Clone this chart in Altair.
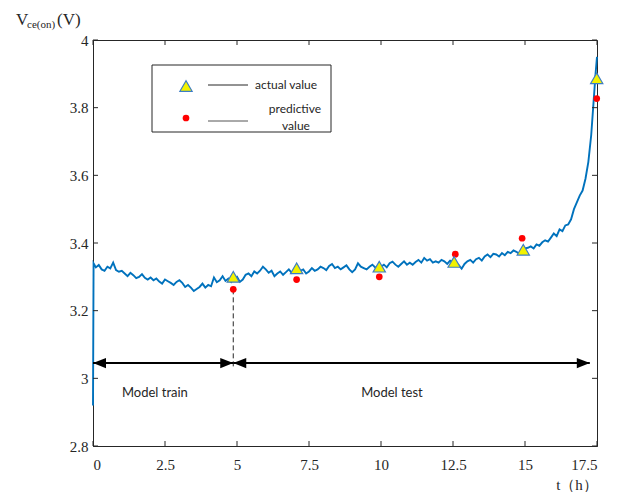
import altair as alt
import pandas as pd

start_t = [0.0, 0.02]
start_v = [2.92, 3.34]
h0 = [3.328, 3.335, 3.322, 3.318, 3.33, 3.325, 3.342, 3.32, 3.315]  # t = 0.1 .. 0.9
h1 = [3.318, 3.31, 3.302, 3.312, 3.305, 3.296, 3.30, 3.308, 3.297, 3.292]
h2 = [3.298, 3.29, 3.295, 3.286, 3.28, 3.292, 3.287, 3.282, 3.276, 3.285]
h3 = [3.29, 3.282, 3.27, 3.276, 3.268, 3.258, 3.264, 3.27, 3.28, 3.268]
h4 = [3.276, 3.272, 3.298, 3.284, 3.29, 3.302, 3.288, 3.295, 3.285, 3.296]
h5 = [3.30, 3.285, 3.292, 3.306, 3.31, 3.302, 3.316, 3.31, 3.318, 3.33]
h6 = [3.322, 3.312, 3.318, 3.302, 3.31, 3.316, 3.306, 3.314, 3.322, 3.312]
h7 = [3.32, 3.312, 3.318, 3.322, 3.31, 3.316, 3.326, 3.318, 3.322, 3.33]
h8 = [3.326, 3.32, 3.332, 3.338, 3.326, 3.33, 3.322, 3.328, 3.334, 3.322]
h9 = [3.314, 3.322, 3.34, 3.33, 3.326, 3.322, 3.33, 3.336, 3.328, 3.324]
h10 = [3.33, 3.336, 3.328, 3.34, 3.345, 3.336, 3.33, 3.338, 3.346, 3.336]
h11 = [3.342, 3.336, 3.344, 3.35, 3.342, 3.356, 3.348, 3.352, 3.342, 3.346]
h12 = [3.342, 3.35, 3.346, 3.338, 3.348, 3.344, 3.34, 3.334, 3.324, 3.338]
h13 = [3.346, 3.35, 3.342, 3.352, 3.356, 3.348, 3.36, 3.366, 3.358, 3.368]
h14 = [3.366, 3.36, 3.37, 3.364, 3.374, 3.37, 3.378, 3.374, 3.368, 3.38]
h15 = [3.384, 3.386, 3.39, 3.384, 3.396, 3.392, 3.402, 3.408, 3.404, 3.416]
h16 = [3.428, 3.42, 3.44, 3.435, 3.452, 3.455, 3.47, 3.50, 3.52, 3.54]
end_t = [17.0, 17.1, 17.2, 17.3, 17.4, 17.45, 17.5]
end_v = [3.555, 3.59, 3.64, 3.72, 3.84, 3.90, 3.95]

actual_t = [4.87, 7.07, 9.94, 12.54, 14.94, 17.49]
actual_v = [3.30, 3.325, 3.33, 3.344, 3.38, 3.887]
pred_t = [4.87, 7.07, 9.94, 12.58, 14.90, 17.49]
pred_v = [3.263, 3.292, 3.30, 3.367, 3.414, 3.827]

x_ticks = [0, 2.5, 5, 7.5, 10, 12.5, 15, 17.5]
y_ticks = [2.8, 3.0, 3.2, 3.4, 3.6, 3.8, 4.0]

split_t = 4.87
arrow_v = 3.045
arrow_end = 17.25
dash_top = 3.263
dash_bottom = 3.03

labels_txt = ["Model train", "Model test"]
labels_t = [2.15, 10.38]
labels_v = [2.958, 2.958]

# ---- build tables ----
rows = [{"t": a, "v": b} for a, b in zip(start_t, start_v)]
rows += [{"t": round(0.1 * (i + 1), 2), "v": v} for i, v in enumerate(h0)]
for hour, seg in enumerate([h1, h2, h3, h4, h5, h6, h7, h8, h9, h10, h11, h12, h13, h14, h15, h16], start=1):
    rows += [{"t": round(hour + 0.1 * i, 2), "v": v} for i, v in enumerate(seg)]
rows += [{"t": a, "v": b} for a, b in zip(end_t, end_v)]
series = pd.DataFrame(rows)

W, H = 504, 406
xs = alt.Scale(domain=[0, 17.5], nice=False, zero=False)
ys = alt.Scale(domain=[2.8, 4.0], nice=False, zero=False)
INK = "#262626"
BLUE = "#0072BD"
SANS = "Lato"
SERIF = "Liberation Serif"

line = alt.Chart(series).mark_line(color=BLUE, strokeWidth=1.9).encode(
    x=alt.X("t:Q", scale=xs, axis=alt.Axis(values=x_ticks, labelExpr="datum.value + ''", title=None,
                                            ticks=False, grid=False, labelPadding=11)),
    y=alt.Y("v:Q", scale=ys, axis=alt.Axis(values=y_ticks, labelExpr="datum.value + ''", title=None,
                                            ticks=False, grid=False, labelPadding=5)),
)

dash = alt.Chart(pd.DataFrame({"t": [split_t], "v": [dash_top], "v2": [dash_bottom]})).mark_rule(
    color=INK, strokeDash=[5, 3], strokeWidth=1
).encode(x=alt.X("t:Q", scale=xs), y=alt.Y("v:Q", scale=ys), y2="v2:Q")

shafts = alt.Chart(pd.DataFrame({"t": [0, split_t], "t2": [split_t, arrow_end], "v": [arrow_v, arrow_v]})).mark_rule(
    color="black", strokeWidth=2
).encode(x=alt.X("t:Q", scale=xs), x2="t2:Q", y=alt.Y("v:Q", scale=ys))

left_heads = alt.Chart(pd.DataFrame({"t": [0, split_t], "v": [arrow_v, arrow_v]})).mark_point(
    shape="M0,0L2,-0.8L2,0.8Z", filled=True, color="black", size=169, opacity=1
).encode(x=alt.X("t:Q", scale=xs), y=alt.Y("v:Q", scale=ys))
right_heads = alt.Chart(pd.DataFrame({"t": [split_t, arrow_end], "v": [arrow_v, arrow_v]})).mark_point(
    shape="M0,0L-2,-0.8L-2,0.8Z", filled=True, color="black", size=169, opacity=1
).encode(x=alt.X("t:Q", scale=xs), y=alt.Y("v:Q", scale=ys))

preds = alt.Chart(pd.DataFrame({"t": pred_t, "v": pred_v})).mark_circle(
    color="#FF0000", size=45, opacity=1
).encode(x=alt.X("t:Q", scale=xs), y=alt.Y("v:Q", scale=ys))

actuals = alt.Chart(pd.DataFrame({"t": actual_t, "v": actual_v})).mark_point(
    shape="triangle-up", filled=True, fill="#F2F200", stroke="#3C7DC4", strokeWidth=1.2, size=150, opacity=1
).encode(x=alt.X("t:Q", scale=xs), y=alt.Y("v:Q", scale=ys))

notes = alt.Chart(pd.DataFrame({"t": labels_t, "v": labels_v, "s": labels_txt})).mark_text(
    font=SANS, fontSize=13, color=INK
).encode(x=alt.X("t:Q", scale=xs), y=alt.Y("v:Q", scale=ys), text="s:N")

# inward ticks on all four sides
xt = pd.DataFrame({"t": x_ticks})
yt = pd.DataFrame({"v": y_ticks})
tick_b = alt.Chart(xt).mark_rule(color=INK).encode(x=alt.X("t:Q", scale=xs), y=alt.value(H), y2=alt.value(H - 5))
tick_t = alt.Chart(xt).mark_rule(color=INK).encode(x=alt.X("t:Q", scale=xs), y=alt.value(0), y2=alt.value(5))
tick_l = alt.Chart(yt).mark_rule(color=INK).encode(y=alt.Y("v:Q", scale=ys), x=alt.value(0), x2=alt.value(5))
tick_r = alt.Chart(yt).mark_rule(color=INK).encode(y=alt.Y("v:Q", scale=ys), x=alt.value(W), x2=alt.value(W - 5))

# legend box
one = pd.DataFrame({"a": [0]})
leg_box = alt.Chart(one).mark_rect(fill="white", stroke=INK, strokeWidth=1).encode(
    x=alt.value(59), x2=alt.value(238), y=alt.value(25), y2=alt.value(92))
leg_l1 = alt.Chart(one).mark_rule(color=INK, strokeWidth=1).encode(
    x=alt.value(115), x2=alt.value(155), y=alt.value(45))
leg_l2 = alt.Chart(one).mark_rule(color="#555555", strokeWidth=1).encode(
    x=alt.value(115), x2=alt.value(155), y=alt.value(81))
leg_tri = alt.Chart(one).mark_point(
    shape="triangle-up", filled=True, fill="#F2F200", stroke="#3C7DC4", strokeWidth=1.2, size=150, opacity=1
).encode(x=alt.value(93), y=alt.value(46))
leg_dot = alt.Chart(one).mark_circle(color="#FF0000", size=45, opacity=1).encode(x=alt.value(93), y=alt.value(78))
leg_t1 = alt.Chart(one).mark_text(font=SANS, fontSize=12, color=INK, align="left").encode(
    x=alt.value(162), y=alt.value(45), text=alt.value("actual value"))
leg_t2 = alt.Chart(one).mark_text(font=SANS, fontSize=12, color=INK, align="center").encode(
    x=alt.value(202), y=alt.value(69), text=alt.value("predictive"))
leg_t3 = alt.Chart(one).mark_text(font=SANS, fontSize=12, color=INK, align="center").encode(
    x=alt.value(203), y=alt.value(86), text=alt.value("value"))

# axis titles
yt_v = alt.Chart(one).mark_text(font=SERIF, fontSize=17, color=INK, align="left", baseline="alphabetic").encode(
    x=alt.value(-77), y=alt.value(-15), text=alt.value("V"))
yt_s = alt.Chart(one).mark_text(font=SERIF, fontSize=11, color=INK, align="left", baseline="alphabetic").encode(
    x=alt.value(-66), y=alt.value(-12), text=alt.value("ce(on)"))
yt_u = alt.Chart(one).mark_text(font=SERIF, fontSize=17, color=INK, align="left", baseline="alphabetic").encode(
    x=alt.value(-36), y=alt.value(-15), text=alt.value("(V)"))
xt_title = alt.Chart(one).mark_text(font=SERIF, fontSize=15, color=INK, align="center").encode(
    x=alt.value(484), y=alt.value(445), text=alt.value("t（h）"))

chart = alt.layer(
    line, dash, shafts, left_heads, right_heads, preds, actuals, notes,
    tick_b, tick_t, tick_l, tick_r,
    leg_box, leg_l1, leg_l2, leg_tri, leg_dot, leg_t1, leg_t2, leg_t3,
    yt_v, yt_s, yt_u, xt_title,
).properties(
    width=W, height=H, autosize="none",
    padding={"left": 85, "top": 32, "right": 15, "bottom": 46},
).configure(
    background="white",
    view=alt.ViewConfig(stroke=INK, strokeWidth=1),
    axis=alt.AxisConfig(labelFont=SERIF, labelFontSize=15, labelColor=INK, domainColor=INK, domainWidth=1),
)

chart.save("out.html", embed_options={"renderer": "svg", "actions": False})
